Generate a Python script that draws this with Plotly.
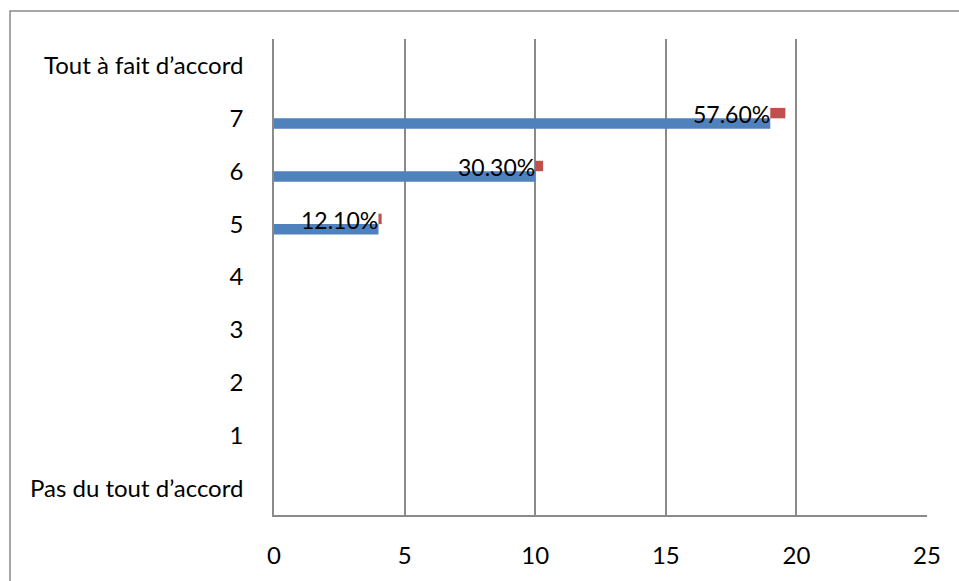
import plotly.graph_objects as go

# Response scale, bottom to top
categories = ["Pas du tout d\u2019accord", "1", "2", "3", "4", "5", "6", "7", "Tout \u00e0 fait d\u2019accord"]
# Number of respondents per level
counts = [0, 0, 0, 0, 0, 4, 10, 19, 0]
# Share of respondents per level (as fraction)
shares = [0, 0, 0, 0, 0, 0.121, 0.303, 0.576, 0]
x_ticks = [0, 5, 10, 15, 20, 25]

GRID = "#8a8a8a"
FONT = "Lato, Carlito, Calibri, 'Open Sans', sans-serif"
FS = 24

fig = go.Figure()
fig.add_trace(go.Bar(
    y=categories, x=counts, orientation="h",
    marker=dict(color="#4f81bd", line=dict(width=0)),
    hoverinfo="skip", showlegend=False,
))
fig.add_trace(go.Bar(
    y=categories, x=shares, base=counts, orientation="h",
    marker=dict(color="#c0504d", line=dict(width=0)),
    hoverinfo="skip", showlegend=False,
))

# Percentage labels, right-aligned against the end of each count bar
for cat, c, s in zip(categories, counts, shares):
    if s > 0:
        fig.add_annotation(
            x=c, y=cat, xref="x", yref="y",
            text=f"{s * 100:.2f}%", showarrow=False,
            xanchor="right", yanchor="middle", yshift=4, xshift=2,
            font=dict(family=FONT, size=23, color="#000000"),
        )

# Outer chart frame
L, R, T, B = 274, 927, 39, 523
W, H = R - L, B - T
fig.add_shape(
    type="rect", xref="paper", yref="paper",
    x0=(10 - L) / W, x1=(975 - L) / W,
    y0=(B - 600) / H, y1=(B - 10.5) / H,
    line=dict(color=GRID, width=1.5), fillcolor="rgba(0,0,0,0)", layer="below",
)

fig.update_layout(
    width=959, height=581,
    margin=dict(l=L, r=959 - R, t=T, b=581 - B),
    paper_bgcolor="white", plot_bgcolor="white",
    barmode="group", bargap=0.605, bargroupgap=0,
    font=dict(family=FONT, size=FS, color="#000000"),
    xaxis=dict(
        range=[0, 25], tickvals=x_ticks, ticktext=[str(v) for v in x_ticks],
        showgrid=True, gridcolor=GRID, gridwidth=1.5,
        showline=True, linecolor=GRID, linewidth=1.5, mirror=False,
        zeroline=False, ticks="", ticklabelstandoff=18,
        tickfont=dict(family=FONT, size=FS),
    ),
    yaxis=dict(
        categoryorder="array", categoryarray=categories,
        range=[-0.5, 8.5],
        showgrid=False, showline=True, linecolor=GRID, linewidth=1.5,
        zeroline=False, ticks="", ticklabelstandoff=24,
        tickfont=dict(family=FONT, size=FS),
    ),
)

fig.write_html("out.html")
